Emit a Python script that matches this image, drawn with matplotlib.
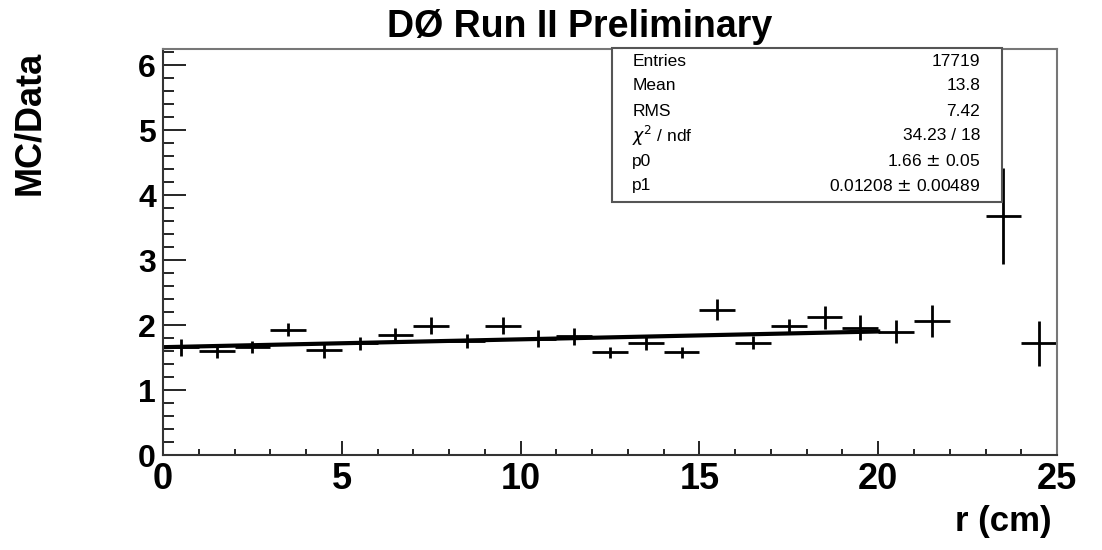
import numpy as np
import matplotlib
matplotlib.use('Agg')
import matplotlib.pyplot as plt
from matplotlib.ticker import MultipleLocator

plt.rcParams['font.family'] = ['Liberation Sans', 'DejaVu Sans']

# bin centres (bin 22.5 is empty)
r_centers = [0.5, 1.5, 2.5, 3.5, 4.5, 5.5, 6.5, 7.5, 8.5, 9.5, 10.5, 11.5,
             12.5, 13.5, 14.5, 15.5, 16.5, 17.5, 18.5, 19.5, 20.5, 21.5, 23.5, 24.5]
ratio = [1.66, 1.60, 1.66, 1.93, 1.61, 1.72, 1.84, 1.99, 1.75, 1.99, 1.79, 1.83,
         1.58, 1.72, 1.58, 2.24, 1.73, 1.98, 2.12, 1.96, 1.90, 2.06, 3.68, 1.72]
ratio_err = [0.13, 0.10, 0.09, 0.10, 0.11, 0.10, 0.11, 0.13, 0.11, 0.13, 0.13, 0.13,
             0.09, 0.11, 0.08, 0.16, 0.10, 0.11, 0.18, 0.19, 0.18, 0.25, 0.74, 0.35]
bin_half = 0.5

# linear fit p0 + p1*r over 0-20 cm
p0 = 1.66
p1 = 0.01208
fit_range = [0, 20]

stat_names = ['Entries', 'Mean', 'RMS', r'$\chi^{2}$ / ndf', 'p0', 'p1']
stat_values = ['17719', '13.8', '7.42', '34.23 / 18', '1.66 $\\pm$ 0.05', '0.01208 $\\pm$ 0.00489']

fig = plt.figure(figsize=(11.02, 5.5), dpi=100)
ax = fig.add_axes([0.1479, 0.1727, 0.8113, 0.7382])

ax.errorbar(r_centers, ratio, xerr=bin_half, yerr=ratio_err, fmt='none',
            ecolor='black', elinewidth=2, capsize=0)
fx = np.array(fit_range, dtype=float)
ax.plot(fx, p0 + p1 * fx, color='black', lw=3)

ax.set_xlim(0, 25)
ax.set_ylim(0, 6.25)
ax.xaxis.set_major_locator(MultipleLocator(5))
ax.xaxis.set_minor_locator(MultipleLocator(1))
ax.yaxis.set_major_locator(MultipleLocator(1))
ax.yaxis.set_minor_locator(MultipleLocator(0.2))
ax.tick_params(axis='x', which='major', direction='in', length=10, width=1.2,
               labelsize=26, pad=5, top=False)
ax.tick_params(axis='x', which='minor', direction='in', length=4.5, width=1.2, top=False)
ax.tick_params(axis='y', which='major', direction='in', length=16.5, width=1.2,
               labelsize=23, pad=5, right=False)
ax.tick_params(axis='y', which='minor', direction='in', length=8, width=1.2, right=False)
for lab in ax.get_xticklabels() + ax.get_yticklabels():
    lab.set_fontweight('bold')
for side in ['left', 'bottom']:
    ax.spines[side].set_linewidth(1.5)
    ax.spines[side].set_color('#333333')
for side in ['top', 'right']:
    ax.spines[side].set_linewidth(1.5)
    ax.spines[side].set_color('#777777')

# stats box
box = plt.Rectangle((0.502, 0.623), 0.4365, 0.379, transform=ax.transAxes,
                    fill=True, facecolor='white', edgecolor='#555555', lw=1.5,
                    clip_on=False, zorder=5)
ax.add_patch(box)
row_y = [0.970, 0.911, 0.847, 0.786, 0.724, 0.663]
for name, val, yy in zip(stat_names, stat_values, row_y):
    ax.text(0.525, yy, name, transform=ax.transAxes, fontsize=12.5,
            ha='left', va='center', zorder=6)
    ax.text(0.914, yy, val, transform=ax.transAxes, fontsize=12.5,
            ha='right', va='center', zorder=6)

fig.text(0.526, 1 - 27 / 550, 'DØ Run II Preliminary', ha='center', va='center',
         fontsize=27, fontweight='bold')
fig.text(30 / 1102, 1 - 123 / 550, 'MC/Data', rotation=90, ha='center', va='center',
         fontsize=26, fontweight='bold')
fig.text(1052 / 1102, 1 - 522 / 550, 'r (cm)', ha='right', va='center',
         fontsize=25, fontweight='bold')

fig.savefig('out.png', dpi=100)
